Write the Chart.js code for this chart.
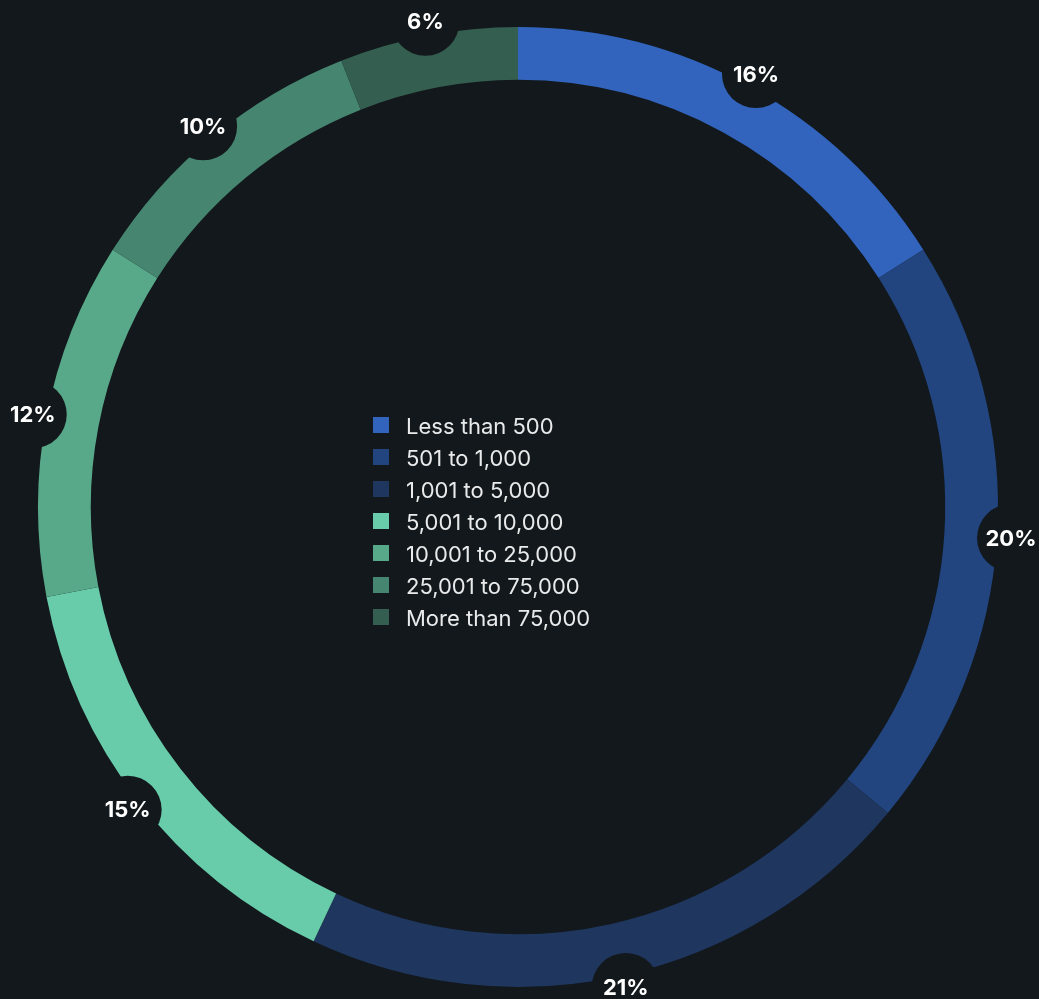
<!DOCTYPE html>
<html>
<head>
<meta charset="utf-8">
<script src="https://cdn.jsdelivr.net/npm/chart.js@4"></script>
<style>
  html, body { margin: 0; padding: 0; background: #12181b; }
  #wrap { width: 1039px; height: 999px; }
</style>
</head>
<body>
<div id="wrap"><canvas id="sizeChart" width="1039" height="999"></canvas></div>
<script>
const categories = ["Less than 500", "501 to 1,000", "1,001 to 5,000", "5,001 to 10,000", "10,001 to 25,000", "25,001 to 75,000", "More than 75,000"];
const shares = [16, 20, 21, 15, 12, 10, 6];
const sliceColors = ["#3264be", "#22447f", "#1f365f", "#68cba9", "#58a88a", "#468670", "#345f50"];

const BG = "#12181b";

// percentage badges sitting on the ring's outer edge
const badgePlugin = {
  id: "badges",
  afterDatasetsDraw(chart) {
    const ctx = chart.ctx;
    const meta = chart.getDatasetMeta(0);
    ctx.save();
    meta.data.forEach((arc, i) => {
      const mid = (arc.startAngle + arc.endAngle) / 2;
      const r = arc.outerRadius + 14;
      let x = arc.x + Math.cos(mid) * r;
      let y = arc.y + Math.sin(mid) * r;
      ctx.font = "bold 22px Inter, 'Liberation Sans', sans-serif";
      const w = ctx.measureText(shares[i] + "%").width;
      x = Math.min(x, chart.width - w / 2 - 2);
      y = Math.min(y, chart.height - 12);
      ctx.beginPath();
      ctx.arc(x, y, 34, 0, Math.PI * 2);
      ctx.fillStyle = BG;
      ctx.fill();
      ctx.fillStyle = "#ffffff";
      ctx.textAlign = "center";
      ctx.textBaseline = "middle";
      ctx.fillText(shares[i] + "%", x, y + 1);
    });
    ctx.restore();
  }
};

// legend drawn in the hole of the doughnut
const centerLegend = {
  id: "centerLegend",
  afterDraw(chart) {
    const ctx = chart.ctx;
    ctx.save();
    ctx.font = "22px Inter, 'Liberation Sans', sans-serif";
    ctx.textBaseline = "middle";
    ctx.textAlign = "left";
    categories.forEach((c, i) => {
      const y = 426 + i * 32;
      ctx.fillStyle = sliceColors[i];
      ctx.fillRect(373, y - 9, 16, 16);
      ctx.fillStyle = "#e8eaeb";
      ctx.fillText(c, 406, y + 1);
    });
    ctx.restore();
  }
};

new Chart(document.getElementById("sizeChart"), {
  type: "doughnut",
  data: {
    labels: categories,
    datasets: [{
      data: shares,
      backgroundColor: sliceColors,
      borderWidth: 0
    }]
  },
  options: {
    responsive: false,
    animation: false,
    cutout: "89%",
    layout: { padding: { top: 27, bottom: 12, left: 38, right: 41 } },
    plugins: {
      legend: { display: false },
      tooltip: { enabled: false }
    }
  },
  plugins: [badgePlugin, centerLegend]
});
</script>
</body>
</html>
